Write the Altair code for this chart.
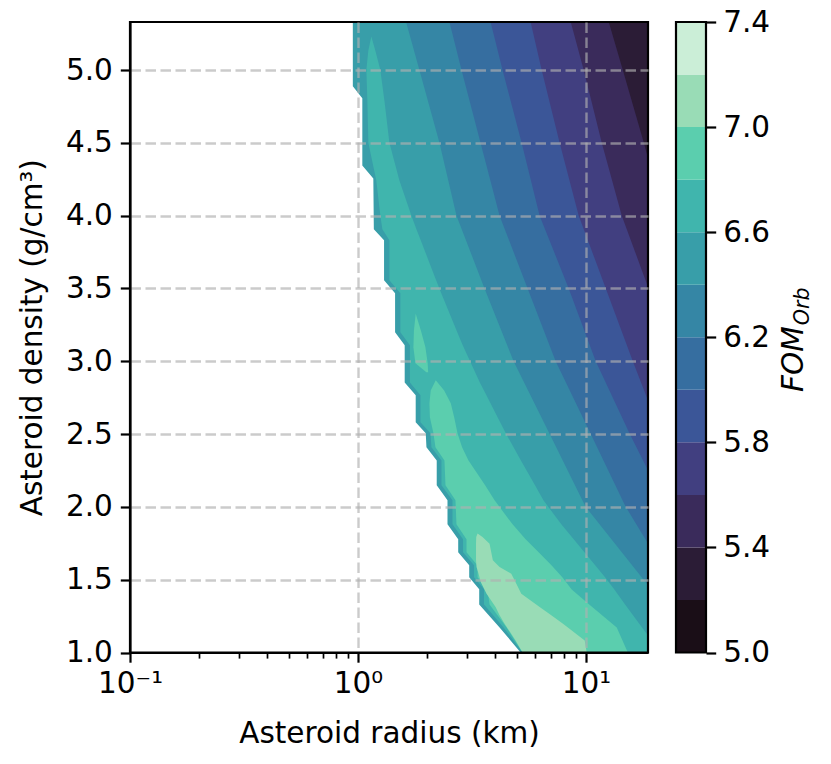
import altair as alt
import pandas as pd

# ------------------------------------------------------------------
# Values
# ------------------------------------------------------------------
R_MIN, R_MAX = 0.1, 18.7          # radius axis extent (km, log)
RHO_MIN, RHO_TOP = 1.0, 5.33       # density axis extent (g/cm3)

levels = [5.0, 5.2, 5.4, 5.6, 5.8, 6.0, 6.2, 6.4, 6.6, 6.8, 7.0, 7.2, 7.4]
band_colors = ["#1a0e17", "#2b1c36", "#3a2b5b", "#413f80", "#3b5698", "#366ea0",
               "#3586a5", "#389ea9", "#40b5ad", "#5bceae", "#99dcb6", "#cbeed7"]
cbar_ticks = [5.0, 5.4, 5.8, 6.2, 6.6, 7.0, 7.4]
x_major = [0.1, 1, 10]
x_minor = [0.2, 0.3, 0.4, 0.5, 0.6, 0.7, 0.8, 0.9, 2, 3, 4, 5, 6, 7, 8, 9]
y_ticks = [1.0, 1.5, 2.0, 2.5, 3.0, 3.5, 4.0, 4.5, 5.0]

# FOM >= 5.2 : whole computed domain
fom52_rho = [5.33, 1.0]
fom52_r = [18.7, 18.7]
# FOM >= 5.4 : right-hand contour (radius at given density)
fom54_rho = [5.33, 5.0, 4.5, 4.394, 1.0]
fom54_r = [12.58, 14.50, 17.93, 18.7, 18.7]
# FOM >= 5.6
fom56_rho = [5.33, 5.0, 4.5, 4.0, 3.51, 1.0]
fom56_r = [8.57, 9.77, 11.72, 14.35, 18.7, 18.7]
# FOM >= 5.8
fom58_rho = [5.33, 5.0, 4.5, 4.0, 3.5, 3.0, 2.731, 1.0]
fom58_r = [5.715, 6.39, 7.66, 9.29, 12.21, 16.04, 18.7, 18.7]
# FOM >= 6.0
fom60_rho = [5.33, 5.0, 4.5, 4.0, 3.5, 3.0, 2.5, 2.251, 1.0]
fom60_r = [3.814, 4.305, 5.218, 6.26, 8.395, 11.03, 15.56, 18.7, 18.7]
# FOM >= 6.2
fom62_rho = [5.33, 5.0, 4.5, 4.0, 3.5, 3.0, 2.5, 2.0, 1.749, 1.0]
fom62_r = [2.518, 2.844, 3.446, 4.177, 5.544, 7.36, 10.49, 14.94, 18.7, 18.7]
# FOM >= 6.4
fom64_rho = [5.33, 5.0, 4.5, 4.0, 3.5, 3.0, 2.5, 2.0, 1.461, 1.0]
fom64_r = [1.625, 1.859, 2.276, 2.704, 3.588, 4.812, 6.927, 9.97, 18.7, 18.7]
# FOM >= 6.6 (left and right contour)
fom66_rho = [5.231, 5.135, 5.0, 4.792, 4.5, 4.242, 4.0, 3.906, 3.831, 3.556, 3.467,
             3.199, 3.110, 2.855, 2.766, 2.581, 2.505, 2.409, 2.319, 2.148, 2.045,
             1.880, 1.777, 1.688, 1.599, 1.516, 1.434, 1.330, 1.172, 1.117, 1.0]
fom66_left = [1.144, 1.110, 1.088, 1.099, 1.110, 1.203, 1.253, 1.279, 1.373, 1.373, 1.534,
              1.534, 1.689, 1.689, 1.879, 1.879, 2.078, 2.099, 2.323, 2.323, 2.596,
              2.596, 2.888, 2.888, 3.228, 3.228, 3.570, 3.570, 4.350, 4.621, 5.271]
fom66_right = [1.144, 1.191, 1.253, 1.305, 1.373, 1.519, 1.715, 1.804, 1.884, 2.201, 2.318,
               2.725, 2.879, 3.422, 3.658, 4.202, 4.448, 4.812, 5.181, 5.975, 6.505,
               7.791, 8.832, 9.840, 10.97, 12.12, 13.29, 14.84, 17.61, 18.7, 18.7]
# FOM >= 6.8 : small island
fom68a_rho = [3.327, 3.210, 3.096, 2.986, 2.924]
fom68a_left = [1.791, 1.759, 1.750, 1.786, 1.995]
fom68a_right = [1.791, 1.888, 1.975, 2.021, 2.030]
# FOM >= 6.8 : main tongue
fom68_rho = [2.869, 2.800, 2.711, 2.615, 2.505, 2.409, 2.319, 2.148, 2.045, 1.880,
             1.777, 1.688, 1.598, 1.516, 1.433, 1.330, 1.172, 1.0]
fom68_left = [2.193, 2.084, 2.057, 2.067, 2.142, 2.186, 2.394, 2.419, 2.676, 2.703,
              2.991, 2.991, 3.344, 3.344, 3.699, 3.775, 4.483, 5.271]
fom68_right = [2.193, 2.387, 2.552, 2.641, 2.731, 2.861, 3.052, 3.610, 3.972, 4.764,
               5.433, 6.198, 7.070, 7.870, 8.655, 10.33, 13.64, 15.25]
# FOM >= 7.0
fom70_rho = [1.818, 1.793, 1.747, 1.633, 1.587, 1.541, 1.482, 1.404, 1.312, 1.255,
             1.198, 1.083, 1.0]
fom70_left = [3.344, 3.300, 3.293, 3.293, 3.310, 3.378, 3.457, 3.662, 4.012, 4.177,
              4.394, 4.911, 5.271]
fom70_right = [3.344, 3.516, 3.775, 3.903, 4.177, 4.702, 4.911, 5.202, 6.261, 7.041,
               7.926, 9.869, 10.07]
# edge of the computed domain (no value to the left of it)
edge_rho = [5.33, 4.888, 4.806, 4.345, 4.256, 3.906, 3.831, 3.556, 3.467, 3.199,
            3.110, 2.855, 2.766, 2.581, 2.505, 2.409, 2.319, 2.148, 2.045, 1.880,
            1.777, 1.688, 1.599, 1.516, 1.434, 1.330, 1.172, 1.0]
edge_r = [0.949, 0.949, 1.0445, 1.0445, 1.1673, 1.1733, 1.3008, 1.3008, 1.4541, 1.4541,
          1.6023, 1.6023, 1.7907, 1.7907, 1.9818, 1.9960, 2.2143, 2.2143, 2.4687, 2.4687,
          2.7506, 2.7506, 3.0740, 3.0740, 3.4008, 3.4008, 4.177, 5.166]

# ------------------------------------------------------------------
# Layout / style
# ------------------------------------------------------------------
W, H = 518, 630.5
FONT = "DejaVu Sans"
FS = 29.5
TICK, TICKW = 9.7, 2.2
MINOR, MINORW = 5.6, 1.7

major_test = "datum.value == 0.1 || datum.value == 1 || datum.value == 10"
x_axis = alt.Axis(
    values=x_major + x_minor,
    labelExpr="datum.value == 0.1 ? '10⁻¹' : datum.value == 1 ? '10⁰' : datum.value == 10 ? '10¹' : ''",
    tickSize={"condition": {"test": major_test, "value": TICK}, "value": MINOR},
    tickWidth={"condition": {"test": major_test, "value": TICKW}, "value": MINORW},
    grid=True,
    gridOpacity={"condition": {"test": "datum.value == 1 || datum.value == 10", "value": 0.66}, "value": 0},
    labelOverlap=False, labelFlush=False, labelPadding=7,
    titlePadding=22, zindex=1,
)
y_axis = alt.Axis(
    values=y_ticks, format=".1f",
    tickSize=TICK, tickWidth=TICKW,
    grid=True,
    gridOpacity={"condition": {"test": "datum.value > 1.01", "value": 0.66}, "value": 0},
    labelOverlap=False, labelFlush=False, labelPadding=8,
    titlePadding=18, zindex=1,
)
xscale = alt.Scale(type="log", domain=[R_MIN, R_MAX], nice=False)
yscale = alt.Scale(domain=[RHO_MIN, RHO_TOP], nice=False, zero=False)
X = alt.X("xl:Q", scale=xscale, axis=x_axis, title="Asteroid radius (km)")
Y = alt.Y("rho:Q", scale=yscale, axis=y_axis, title="Asteroid density (g/cm³)")


def region(rho, left, right, color):
    df = pd.DataFrame({"rho": rho, "xl": left, "xr": right})
    return alt.Chart(df).mark_area(
        orient="horizontal", color=color, opacity=1, strokeWidth=0
    ).encode(x=X, x2=alt.X2("xr:Q"), y=Y)


layers = [
    region(fom52_rho, [R_MIN] * len(fom52_rho), fom52_r, band_colors[1]),
    region(fom54_rho, [R_MIN] * len(fom54_rho), fom54_r, band_colors[2]),
    region(fom56_rho, [R_MIN] * len(fom56_rho), fom56_r, band_colors[3]),
    region(fom58_rho, [R_MIN] * len(fom58_rho), fom58_r, band_colors[4]),
    region(fom60_rho, [R_MIN] * len(fom60_rho), fom60_r, band_colors[5]),
    region(fom62_rho, [R_MIN] * len(fom62_rho), fom62_r, band_colors[6]),
    region(fom64_rho, [R_MIN] * len(fom64_rho), fom64_r, band_colors[7]),
    region(fom66_rho, fom66_left, fom66_right, band_colors[8]),
    region(fom68a_rho, fom68a_left, fom68a_right, band_colors[9]),
    region(fom68_rho, fom68_left, fom68_right, band_colors[9]),
    region(fom70_rho, fom70_left, fom70_right, band_colors[10]),
    region(edge_rho, [R_MIN] * len(edge_rho), edge_r, "#ffffff"),
]

frame = alt.Chart(pd.DataFrame({"a": [0]})).mark_rect(
    fillOpacity=0, stroke="black", strokeWidth=TICKW
).encode(x=alt.value(0), x2=alt.value(W), y=alt.value(0), y2=alt.value(H))

title_df = pd.DataFrame({"a": [0]})
t_fom = alt.Chart(title_df).mark_text(
    text="FOM", angle=270, font=FONT, fontSize=FS, fontStyle="italic",
    align="center", baseline="alphabetic", color="black"
).encode(x=alt.value(W + 155), y=alt.value(H / 2 + 22))
t_orb = alt.Chart(title_df).mark_text(
    text="Orb", angle=270, font=FONT, fontSize=FS * 0.7, fontStyle="italic",
    align="center", baseline="alphabetic", color="black"
).encode(x=alt.value(W + 161), y=alt.value(H / 2 - 31))

main = alt.layer(*layers, frame, t_fom, t_orb)

cbar_df = pd.DataFrame({"lo": levels[:-1], "hi": levels[1:], "c": band_colors})
cscale = alt.Scale(domain=[levels[0], levels[-1]], nice=False, zero=False)
c_axis = alt.Axis(
    orient="right", offset=58, values=cbar_ticks, format=".1f",
    tickSize=TICK, tickWidth=TICKW, grid=False, domain=False,
    labelOverlap=False, labelFlush=False, labelPadding=7, title=None, zindex=1,
)
cbands = alt.Chart(cbar_df).mark_rect(strokeWidth=0).encode(
    y=alt.Y("lo:Q", scale=cscale, axis=c_axis),
    y2=alt.Y2("hi:Q"),
    x=alt.value(W + 28), x2=alt.value(W + 58),
    color=alt.Color("c:N", scale=None),
)
cframe = alt.Chart(pd.DataFrame({"lo": [levels[0]], "hi": [levels[-1]]})).mark_rect(
    fillOpacity=0, stroke="black", strokeWidth=TICKW
).encode(
    y=alt.Y("lo:Q", scale=cscale, axis=c_axis), y2=alt.Y2("hi:Q"),
    x=alt.value(W + 28), x2=alt.value(W + 58),
)
cbar = alt.layer(cbands, cframe)

chart = alt.layer(main, cbar).resolve_scale(y="independent").properties(
    width=W, height=H,
    autosize=alt.AutoSizeParams(type="none"),
    padding={"left": 122, "top": 14, "right": 170, "bottom": 102},
    background="white",
).configure_view(stroke=None).configure_axis(
    labelFont=FONT, labelFontSize=FS, labelColor="black",
    titleFont=FONT, titleFontSize=FS, titleFontWeight="normal", titleColor="black",
    domainColor="black", domainWidth=TICKW, tickColor="black",
    gridColor="#b0b0b0", gridWidth=2.4, gridDash=[10.5, 4.5],
)

chart.save("out.html", embed_options={"renderer": "svg", "actions": False})
